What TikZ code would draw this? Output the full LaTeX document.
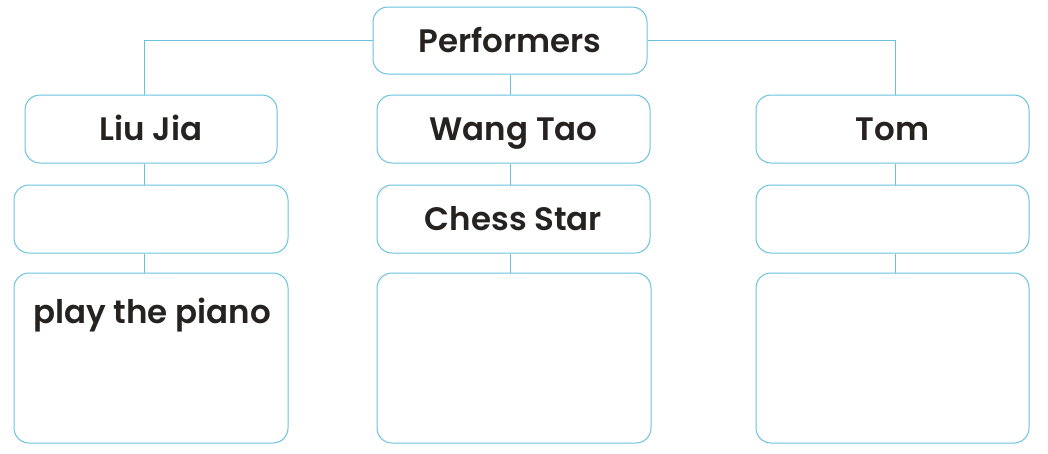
\documentclass[tikz,border=0pt]{standalone}
\usepackage{fontspec}
\setmainfont{Poppins SemiBold}
\usetikzlibrary{calc}
\definecolor{boxblue}{RGB}{105,195,222}
\definecolor{ink}{RGB}{38,34,32}

\begin{document}
\begin{tikzpicture}[x=1pt, y=-1pt,
    box/.style={draw=boxblue, line width=1pt, rounded corners=15pt, inner sep=0pt,
      text=ink, font=\fontsize{32.5}{38}\selectfont, text height=23pt, text depth=0pt},
    link/.style={draw=boxblue, line width=0.9pt}]
			%%%%% START %%%%%
			\useasboundingbox (0, 0) rectangle (1048, 453);
			
			% top
			\node[box, minimum width=274pt, minimum height=67pt] (perf) at (510, 40.5) {Performers};
			
			% names
			\node[box, minimum width=252pt, minimum height=68pt] (liu) at (151, 129) {Liu Jia};
			\node[box, minimum width=273pt, minimum height=68pt] (wang) at (513.5, 129) {Wang Tao};
			\node[box, minimum width=273pt, minimum height=68pt] (tom) at (892.5, 129) {Tom};
			
			% second row
			\node[box, minimum width=274pt, minimum height=68pt] (liuShow) at (151, 219) {};
			\node[box, minimum width=273pt, minimum height=68pt] (chess) at (513.5, 219) {Chess Star};
			\node[box, minimum width=273pt, minimum height=68pt] (tomShow) at (892.5, 219) {};
			
			% third row
			\node[box, minimum width=274pt, minimum height=170pt] (liuAct) at (151, 358) {};
			\node[box, minimum width=274pt, minimum height=170pt] (wangAct) at (514, 358) {};
			\node[box, minimum width=273pt, minimum height=170pt] (tomAct) at (892.5, 358) {};
			\node[text=ink, font=\fontsize{32.5}{38}\selectfont, inner sep=0pt,
			  text height=23pt, text depth=0pt] (piano) at ($(liuAct.north)+(1, 39)$) {play the piano};
			
			% connectors
			\coordinate (lx) at (144, 0);
			\coordinate (mx) at (510, 0);
			\coordinate (rx) at (895, 0);
			\draw[link] (perf.west) -| (liu.north -| lx);
			\draw[link] (perf.east) -| (tom.north -| rx);
			\draw[link] (perf.south -| mx) -- (wang.north -| mx);
			
			\draw[link] (liu.south -| lx) -- (liuShow.north -| lx);
			\draw[link] (liuShow.south -| lx) -- (liuAct.north -| lx);
			\draw[link] (wang.south -| mx) -- (chess.north -| mx);
			\draw[link] (chess.south -| mx) -- (wangAct.north -| mx);
			\draw[link] (tom.south -| rx) -- (tomShow.north -| rx);
			\draw[link] (tomShow.south -| rx) -- (tomAct.north -| rx);
			%%%%% END %%%%%
		\end{tikzpicture}
\end{document}
